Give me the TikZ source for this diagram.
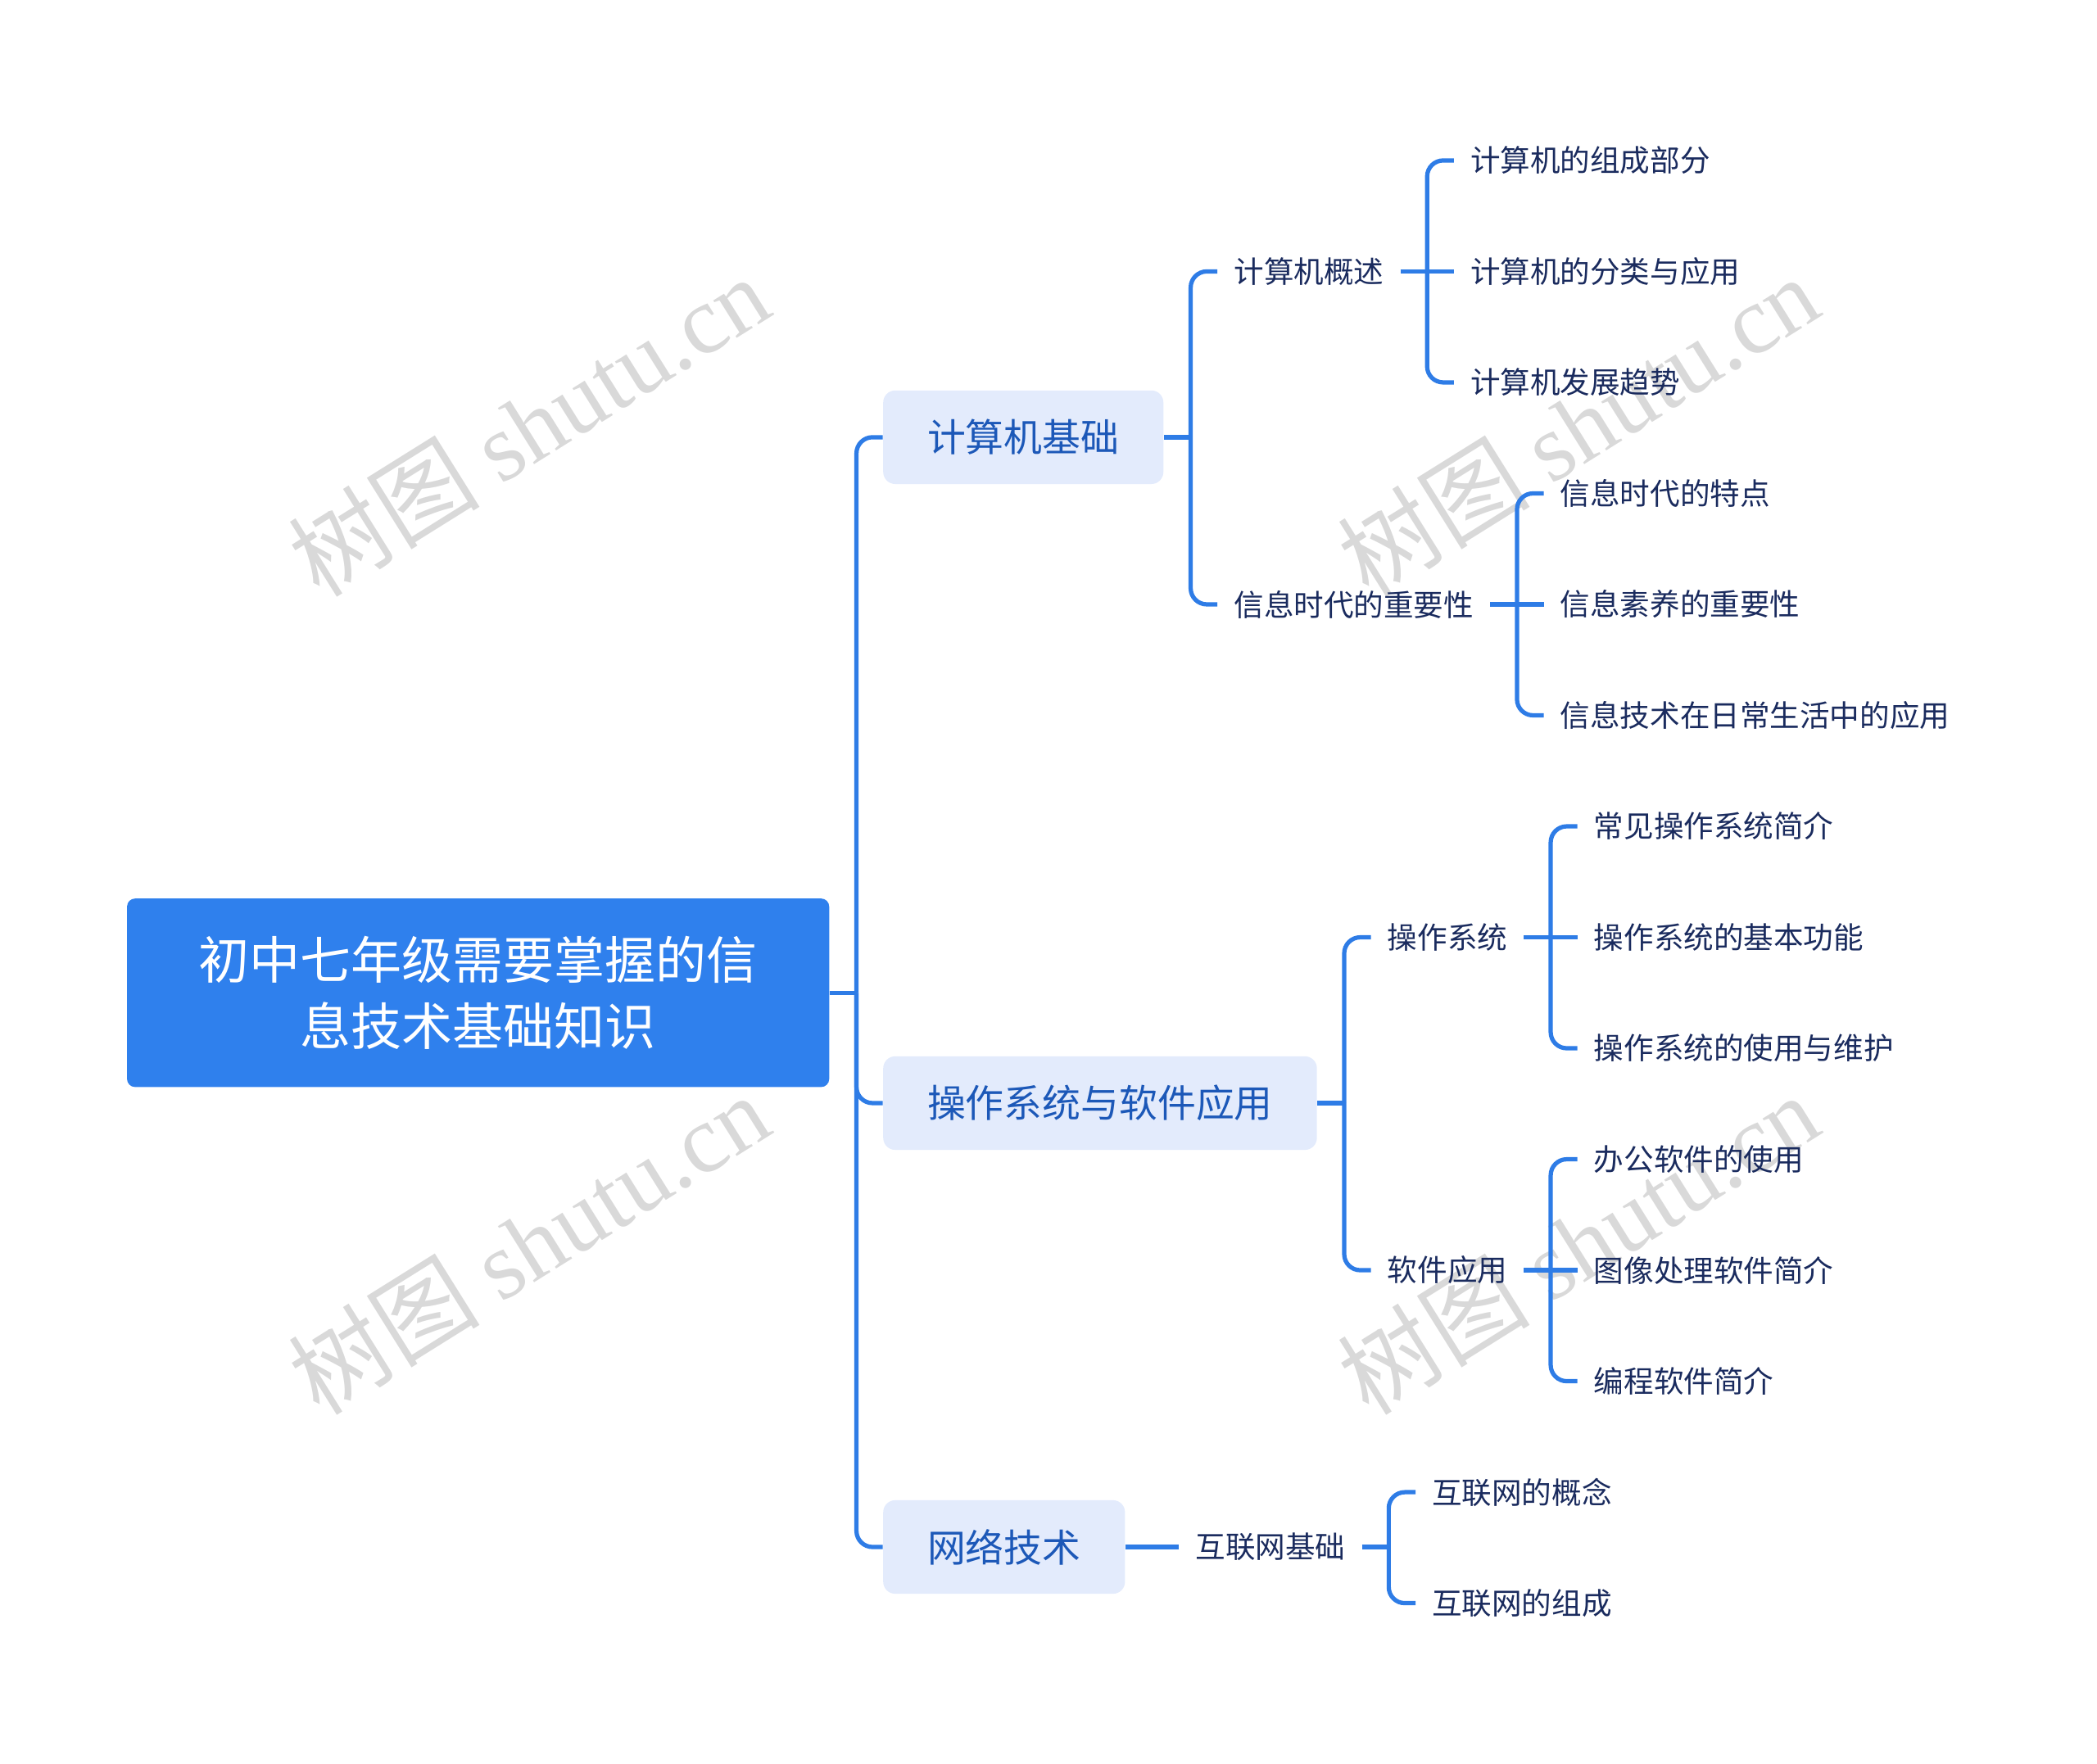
\documentclass[tikz,border=0pt]{standalone}
\usepackage{fontspec}
\setmainfont{Noto Sans CJK SC}
\newfontfamily\wmlatin{Liberation Serif}
\newfontfamily\wmcjk{Noto Sans CJK SC}
\definecolor{lineblue}{HTML}{2E7CE6}
\definecolor{rootblue}{HTML}{2F80ED}
\definecolor{lvfill}{HTML}{E3EBFC}
\definecolor{lvtext}{HTML}{1C58B8}
\definecolor{leaftext}{HTML}{1A2B5E}
\definecolor{wmgray}{HTML}{D9D9D9}
\begin{document}
\begin{tikzpicture}[x=0.5pt,y=-0.5pt,
  rootbox/.style={fill=rootblue, rounded corners=3pt, minimum width=262.5pt, minimum height=70.5pt,
    text=white, font=\fontsize{19}{25}\selectfont, align=center, inner sep=0pt},
  topic/.style={fill=lvfill, rounded corners=4.5pt, minimum height=35pt, inner xsep=16.5pt,
    inner ysep=0pt, text=lvtext, font=\fontsize{14.35}{17}\selectfont, anchor=west},
  leaf/.style={inner xsep=6pt, inner ysep=2pt, text=leaftext,
    font=\fontsize{11.2}{14}\selectfont, anchor=west},
  conn/.style={draw=lineblue, line width=1.6pt, rounded corners=6pt},
  wm/.style={text=wmgray, rotate=32, inner sep=0pt, font=\fontsize{36}{38}\selectfont}
]
\useasboundingbox (0,0) rectangle (1568,1319);
% watermarks
\node[wm] (w1) at (395,318) {\wmcjk 树图\ \wmlatin shutu.cn};
\node[wm] (w2) at (395,930) {\wmcjk 树图\ \wmlatin shutu.cn};
\node[wm] (w3) at (1180,318) {\wmcjk 树图\ \wmlatin shutu.cn};
\node[wm] (w4) at (1180,930) {\wmcjk 树图\ \wmlatin shutu.cn};

% root
\node[rootbox] (root) at (357.5,742.5) {初中七年级需要掌握的信\\息技术基础知识};

% level 1
\node[topic] (t1) at (660,327) {计算机基础};
\node[topic] (t2) at (660,825) {操作系统与软件应用};
\node[topic] (t3) at (660,1157) {网络技术};

% level 2
\path (t1.east) ++(40,0) coordinate (p1);
\node[leaf] (a1) at (p1 |- 0,203) {计算机概述};
\node[leaf] (a2) at (p1 |- 0,452) {信息时代的重要性};
\path (t2.east) ++(40,0) coordinate (p2);
\node[leaf] (b1) at (p2 |- 0,701) {操作系统};
\node[leaf] (b2) at (p2 |- 0,950) {软件应用};
\path (t3.east) ++(40,0) coordinate (p3);
\node[leaf] (c1) at (p3 |- 0,1157) {互联网基础};

% level 3
\path (a1.east) ++(40,0) coordinate (q1);
\node[leaf] (a11) at (q1 |- 0,120) {计算机的组成部分};
\node[leaf] (a12) at (q1 |- 0,203) {计算机的分类与应用};
\node[leaf] (a13) at (q1 |- 0,286) {计算机发展趋势};
\path (a2.east) ++(40,0) coordinate (q2);
\node[leaf] (a21) at (q2 |- 0,369) {信息时代的特点};
\node[leaf] (a22) at (q2 |- 0,452) {信息素养的重要性};
\node[leaf] (a23) at (q2 |- 0,535) {信息技术在日常生活中的应用};
\path (b1.east) ++(40,0) coordinate (q3);
\node[leaf] (b11) at (q3 |- 0,618) {常见操作系统简介};
\node[leaf] (b12) at (q3 |- 0,701) {操作系统的基本功能};
\node[leaf] (b13) at (q3 |- 0,784) {操作系统的使用与维护};
\path (b2.east) ++(40,0) coordinate (q4);
\node[leaf] (b21) at (q4 |- 0,867) {办公软件的使用};
\node[leaf] (b22) at (q4 |- 0,950) {图像处理软件简介};
\node[leaf] (b23) at (q4 |- 0,1033) {编程软件简介};
\path (c1.east) ++(40,0) coordinate (q5);
\node[leaf] (c11) at (q5 |- 0,1116) {互联网的概念};
\node[leaf] (c12) at (q5 |- 0,1199) {互联网的组成};

% junctions
\coordinate (jr) at ([xshift=10pt]root.east);
\coordinate (j1) at ([xshift=10pt]t1.east);
\coordinate (j2) at ([xshift=10pt]t2.east);
\coordinate (ja1) at ([xshift=10pt]a1.east);
\coordinate (ja2) at ([xshift=10pt]a2.east);
\coordinate (jb1) at ([xshift=10pt]b1.east);
\coordinate (jb2) at ([xshift=10pt]b2.east);
\coordinate (jc1) at ([xshift=10pt]c1.east);

% connectors
\draw[conn] (root.east) -- (jr);
\draw[conn] (jr) |- (t1.west);
\draw[conn] (jr) |- (t2.west);
\draw[conn] (jr) |- (t3.west);

\draw[conn] (t1.east) -- (j1);
\draw[conn] (j1) |- (a1.west);
\draw[conn] (j1) |- (a2.west);
\draw[conn] (a1.east) -- (ja1);
\draw[conn] (ja1) |- (a11.west);
\draw[conn] (ja1) -- (a12.west);
\draw[conn] (ja1) |- (a13.west);
\draw[conn] (a2.east) -- (ja2);
\draw[conn] (ja2) |- (a21.west);
\draw[conn] (ja2) -- (a22.west);
\draw[conn] (ja2) |- (a23.west);

\draw[conn] (t2.east) -- (j2);
\draw[conn] (j2) |- (b1.west);
\draw[conn] (j2) |- (b2.west);
\draw[conn] (b1.east) -- (jb1);
\draw[conn] (jb1) |- (b11.west);
\draw[conn] (jb1) -- (b12.west);
\draw[conn] (jb1) |- (b13.west);
\draw[conn] (b2.east) -- (jb2);
\draw[conn] (jb2) |- (b21.west);
\draw[conn] (jb2) -- (b22.west);
\draw[conn] (jb2) |- (b23.west);

\draw[conn] (t3.east) -- (c1.west);
\draw[conn] (c1.east) -- (jc1);
\draw[conn] (jc1) |- (c11.west);
\draw[conn] (jc1) |- (c12.west);
\end{tikzpicture}
\end{document}
